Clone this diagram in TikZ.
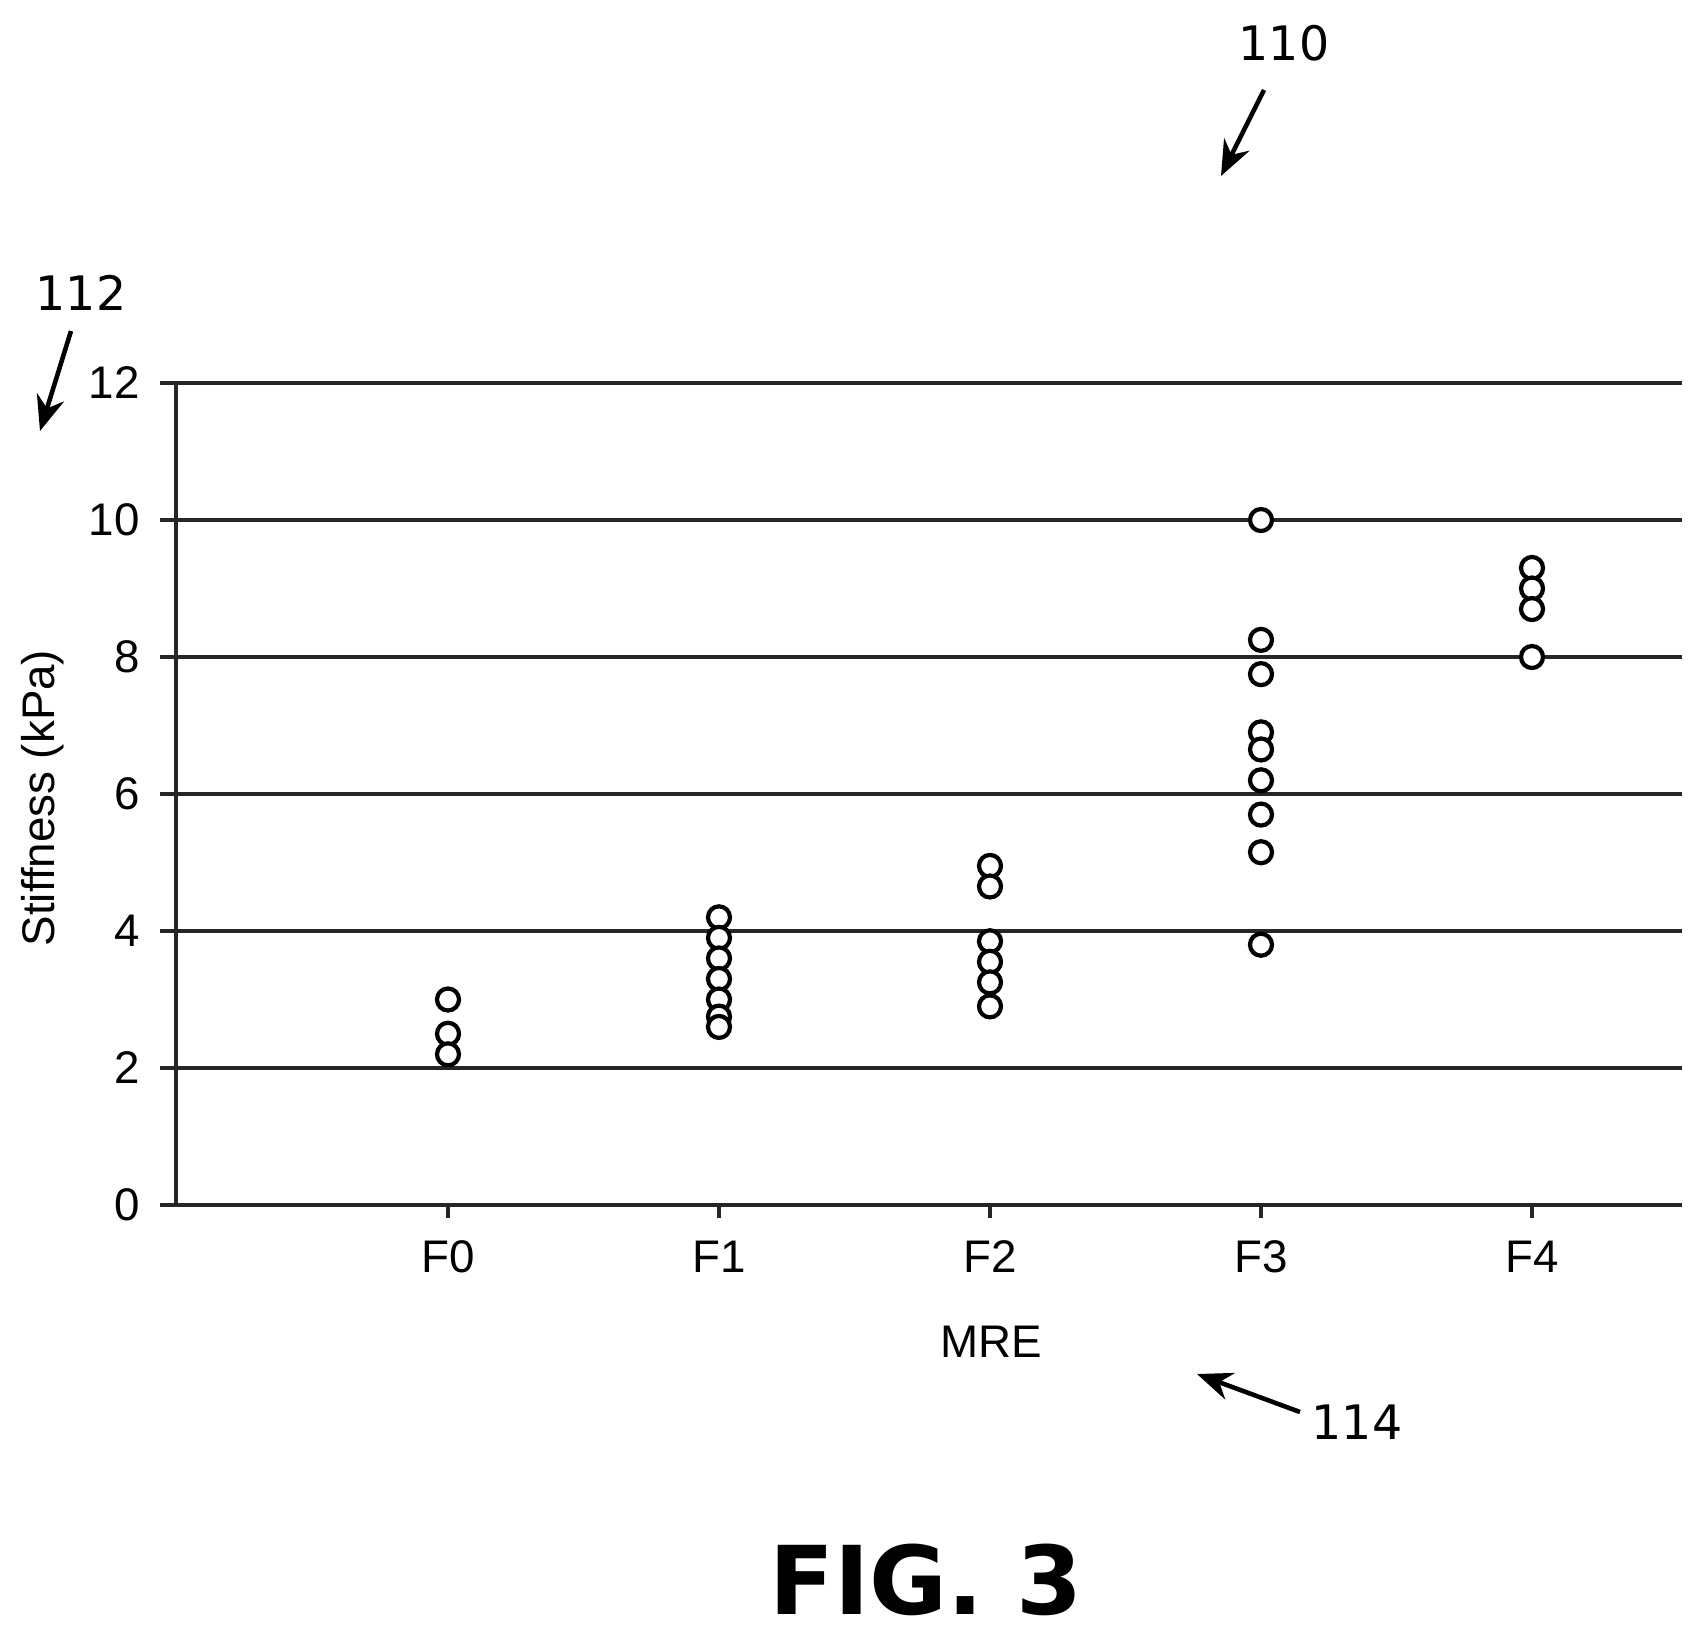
\documentclass[tikz,border=0pt]{standalone}
\usepackage{fontspec}
\setmainfont{Liberation Sans}
\newfontfamily\refont{DejaVu Sans}
\usetikzlibrary{arrows.meta}
\begin{document}
\begin{tikzpicture}[x=0.01cm,y=-0.01cm,
  grid/.style={line width=1.4pt,black!85},
  pt/.style={circle,draw,line width=1.2pt,minimum size=0.22cm,inner sep=0pt,fill=white},
  tk/.style={font=\fontsize{13}{15}\selectfont},
  refl/.style={font=\refont\fontsize{13.5}{16}\selectfont},
  refa/.style={-{Stealth[length=10pt,width=8pt]},line width=1.3pt}]
\useasboundingbox (0,0) rectangle (1693,1642);
\def\yv#1{1205-68.5*#1}
% gridlines and y ticks
\foreach \v in {0,2,...,12}{
  \draw[grid] (160,{\yv{\v}}) -- (1682,{\yv{\v}});
  \node[tk,anchor=east] at (152,{\yv{\v}}) {\v};
}
\draw[grid] (176,{\yv{12}}) -- (176,{\yv{0}});
% x ticks and labels
\foreach \n [count=\i from 0] in {F0,F1,F2,F3,F4}{
  \draw[grid] ({448+271*\i},1205) -- ({448+271*\i},1218);
  \node[tk] (c\i) at ({448+271*\i},1257) {\n};
}
\node[tk] (mre) at (991,1342) {MRE};
\node[tk,rotate=90] (ylab) at (43,798) {Stiffness (kPa)};
% data points
\foreach \v in {3.0,2.5,2.2}{\node[pt] at (448,{\yv{\v}}) {};}
\foreach \v in {4.2,3.9,3.6,3.3,3.0,2.75,2.6}{\node[pt] at (719,{\yv{\v}}) {};}
\foreach \v in {4.95,4.65,3.85,3.55,3.25,2.9}{\node[pt] at (990,{\yv{\v}}) {};}
\foreach \v in {10,8.25,7.75,6.9,6.65,6.2,5.7,5.15,3.8}{\node[pt] at (1261,{\yv{\v}}) {};}
\foreach \v in {9.3,9.0,8.7,8.0}{\node[pt] at (1532,{\yv{\v}}) {};}
% reference numerals
\node[refl] (r110) at (1284,43) {110};
\coordinate (a110) at (1221,176);
\draw[refa] (1264,90) -- (a110);
\node[refl] (r112) at (81,293) {112};
\coordinate (a112) at (40,431);
\draw[refa] (71,331) -- (a112);
\node[refl] (r114) at (1357,1422) {114};
\coordinate (a114) at (1197,1374);
\draw[refa] (1300,1412) -- (a114);
\node[font=\refont\bfseries\fontsize{27}{32}\selectfont] (fig) at (926,1580) {FIG. 3};
\end{tikzpicture}
\end{document}
